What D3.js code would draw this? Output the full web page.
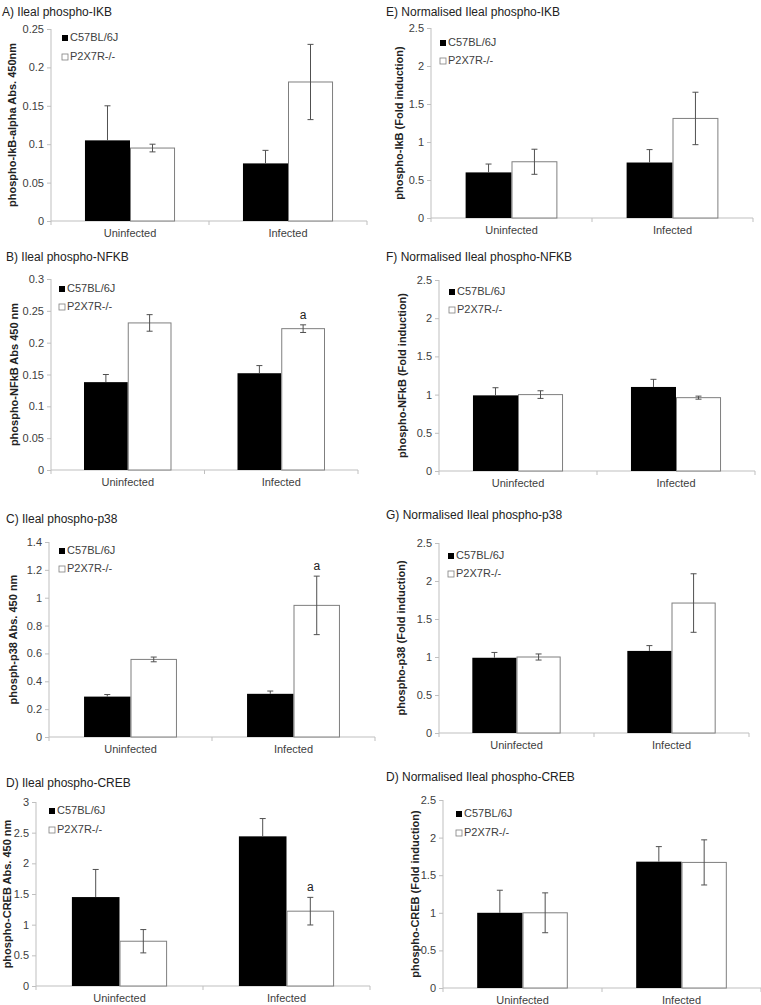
<!DOCTYPE html>
<html><head><meta charset="utf-8">
<script src="https://cdn.jsdelivr.net/npm/d3@7"></script>
<style>body{margin:0;background:#fff}svg{display:block;font-family:Arial,"Liberation Sans",sans-serif}</style>
</head><body>
<script>
// ---- data ----
const categories = ["Uninfected", "Infected"];
const seriesNames = ["C57BL/6J", "P2X7R-/-"];
const panelTitles = ["A) Ileal phospho-IKB", "E) Normalised Ileal phospho-IKB", "B) Ileal phospho-NFKB", "F) Normalised Ileal phospho-NFKB", "C) Ileal phospho-p38", "G) Normalised Ileal phospho-p38", "D) Ileal phospho-CREB", "D) Normalised  Ileal phospho-CREB"];
const yTitles = ["phospho-IkB-alpha Abs. 450nm", "phospho-IkB (Fold induction)", "phospho-NFkB Abs 450 nm", "phospho-NFkB (Fold induction)", "phosph-p38 Abs. 450 nm", "phospho-p38 (Fold induction)", "phospho-CREB Abs. 450 nm", "phospho-CREB (Fold induction)"];
const yMaxes = [0.25, 2.5, 0.3, 2.5, 1.4, 2.5, 3, 2.5];
const yTickSteps = [0.05, 0.5, 0.05, 0.5, 0.2, 0.5, 0.5, 0.5];
// means [Uninfected, Infected] per strain
const c57Means = [[0.105, 0.075], [0.60, 0.73], [0.138, 0.152], [0.99, 1.10], [0.29, 0.31], [0.99, 1.08], [1.45, 2.44], [1.00, 1.68]];
const c57Errors = [[0.045, 0.017], [0.11, 0.17], [0.012, 0.012], [0.10, 0.10], [0.015, 0.02], [0.07, 0.07], [0.45, 0.29], [0.30, 0.20]];
const p2xMeans = [[0.095, 0.181], [0.74, 1.31], [0.231, 0.222], [1.00, 0.96], [0.557, 0.945], [1.00, 1.71], [0.73, 1.22], [1.00, 1.67]];
const p2xErrors = [[0.005, 0.049], [0.165, 0.345], [0.013, 0.006], [0.05, 0.02], [0.017, 0.21], [0.04, 0.385], [0.19, 0.225], [0.265, 0.30]];
// significance marks: [panel index, category index, series index, label]
const sigMarks = [[2, 1, 1, "a"], [4, 1, 1, "a"], [6, 1, 1, "a"]];

// ---- layout ----
const layout = [
  {x0: 51, x1: 367, yTop: 29, y0: 221, tx: 2, ty: 16, ylx: 13, lx: 14, ly: 9, lg: 19},
  {x0: 431, x1: 753, yTop: 28, y0: 218, tx: 386, ty: 16, ylx: 400, lx: 12, ly: 15, lg: 18},
  {x0: 51, x1: 358, yTop: 279, y0: 470, tx: 6, ty: 261, ylx: 15, lx: 11, ly: 10, lg: 18},
  {x0: 439, x1: 755, yTop: 280, y0: 471, tx: 386, ty: 261, ylx: 403, lx: 13, ly: 12, lg: 18},
  {x0: 49, x1: 375, yTop: 542, y0: 737, tx: 6, ty: 523, ylx: 14, lx: 13, ly: 9, lg: 18},
  {x0: 439, x1: 749, yTop: 543, y0: 733, tx: 386, ty: 519, ylx: 402, lx: 12, ly: 13, lg: 18},
  {x0: 36, x1: 370, yTop: 802, y0: 986, tx: 6, ty: 787, ylx: 8, lx: 16, ly: 9, lg: 19},
  {x0: 443, x1: 761, yTop: 800, y0: 988, tx: 386, ty: 781, ylx: 416, lx: 16, ly: 14, lg: 19}
];

const svg = d3.select("body").append("svg").attr("width", 761).attr("height", 1005);
const axisColor = "#bfbfbf", textColor = "#404040";
const fmt = d => String(+d.toFixed(3));

layout.forEach((L, i) => {
  const g = svg.append("g");
  const x = d3.scaleBand().domain(categories).range([L.x0, L.x1]).paddingInner(0.43).paddingOuter(0.215);
  const xs = d3.scaleBand().domain(seriesNames).range([0, x.bandwidth()]);
  const y = d3.scaleLinear().domain([0, yMaxes[i]]).range([L.y0, L.yTop]);
  const ticks = d3.range(0, yMaxes[i] + yTickSteps[i] / 2, yTickSteps[i]);

  // title
  g.append("text").attr("x", L.tx).attr("y", L.ty).attr("font-size", 12).attr("fill", "#222").text(panelTitles[i]);

  // y axis
  const ya = g.append("g").attr("transform", `translate(${L.x0},0)`)
    .call(d3.axisLeft(y).tickValues(ticks).tickFormat(fmt).tickSize(4).tickPadding(3));
  ya.select(".domain").attr("stroke", axisColor).attr("d", `M0,${L.y0}V${L.yTop}`);
  ya.selectAll(".tick line").attr("stroke", axisColor);
  ya.selectAll(".tick text").attr("fill", textColor).attr("font-size", 11).attr("font-family", "Arial, Liberation Sans, sans-serif");

  // x axis
  const xa = g.append("g").attr("transform", `translate(0,${L.y0})`)
    .call(d3.axisBottom(x).tickSize(0).tickPadding(8));
  xa.select(".domain").attr("stroke", axisColor).attr("d", `M${L.x0},0H${L.x1}`);
  xa.selectAll(".tick text").attr("fill", textColor).attr("font-size", 11).attr("font-family", "Arial, Liberation Sans, sans-serif");
  const bounds = [L.x0, (L.x0 + L.x1) / 2, L.x1];
  g.selectAll(".xb").data(bounds).join("line").attr("x1", d => d).attr("x2", d => d)
    .attr("y1", L.y0).attr("y2", L.y0 + 4).attr("stroke", axisColor);

  // bars
  const rows = [];
  categories.forEach((c, ci) => {
    rows.push({c, s: seriesNames[0], v: c57Means[i][ci], e: c57Errors[i][ci], dark: true});
    rows.push({c, s: seriesNames[1], v: p2xMeans[i][ci], e: p2xErrors[i][ci], dark: false});
  });
  g.selectAll(".bar").data(rows).join("rect")
    .attr("x", d => x(d.c) + xs(d.s) + (d.dark ? 0 : 0.5))
    .attr("y", d => y(d.v))
    .attr("width", d => xs.bandwidth() - (d.dark ? 0 : 1))
    .attr("height", d => y(0) - y(d.v))
    .attr("fill", d => d.dark ? "#000" : "#fff").attr("stroke", d => d.dark ? "none" : "#7f7f7f");

  // error bars (lower half on the black bars is hidden, as in the original)
  const cx = d => x(d.c) + xs(d.s) + xs.bandwidth() / 2;
  const eg = g.selectAll(".err").data(rows).join("g").attr("stroke", "#505050").attr("stroke-width", 1);
  eg.append("line").attr("x1", cx).attr("x2", cx)
    .attr("y1", d => d.dark ? y(d.v) : y(d.v - d.e)).attr("y2", d => y(d.v + d.e));
  eg.append("line").attr("x1", d => cx(d) - 3).attr("x2", d => cx(d) + 3)
    .attr("y1", d => y(d.v + d.e)).attr("y2", d => y(d.v + d.e));
  eg.filter(d => !d.dark).append("line").attr("x1", d => cx(d) - 3).attr("x2", d => cx(d) + 3)
    .attr("y1", d => y(d.v - d.e)).attr("y2", d => y(d.v - d.e));

  // significance
  sigMarks.filter(m => m[0] === i).forEach(m => {
    const c = categories[m[1]], s = seriesNames[m[2]];
    const v = m[2] === 0 ? c57Means[i][m[1]] + c57Errors[i][m[1]] : p2xMeans[i][m[1]] + p2xErrors[i][m[1]];
    g.append("text").attr("x", x(c) + xs(s) + xs.bandwidth() / 2).attr("y", y(v) - 6)
      .attr("text-anchor", "middle").attr("font-size", 12).attr("fill", "#222").text(m[3]);
  });

  // y title
  g.append("text").attr("transform", `translate(${L.ylx},${(L.y0 + L.yTop) / 2}) rotate(-90)`)
    .attr("text-anchor", "middle").attr("dominant-baseline", "middle")
    .attr("font-size", 11).attr("font-weight", "bold").attr("fill", "#222").text(yTitles[i]);

  // legend
  const lg = g.selectAll(".leg").data(seriesNames).join("g")
    .attr("transform", (d, k) => `translate(${L.x0 + L.lx},${L.yTop + L.ly + k * L.lg})`);
  lg.append("rect").attr("x", -3).attr("y", -3).attr("width", 6).attr("height", 6)
    .attr("fill", (d, k) => k === 0 ? "#000" : "#fff").attr("stroke", (d, k) => k === 0 ? "none" : "#7f7f7f").attr("stroke-width", 0.8);
  lg.append("text").attr("x", 5).attr("y", 0).attr("dominant-baseline", "middle")
    .attr("font-size", 11).attr("fill", textColor).text(d => d);
});
</script>
</body></html>
